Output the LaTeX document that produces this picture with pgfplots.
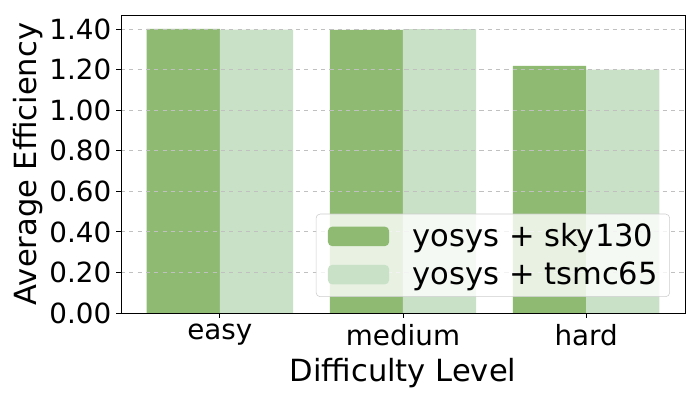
\documentclass[border=0pt]{standalone}
\usepackage{pgfplots}
\pgfplotsset{compat=1.18}
\usepackage{fontspec}
\setmainfont{DejaVu Sans}
\definecolor{skyc}{RGB}{143,186,114}
\definecolor{tsmcc}{RGB}{201,225,199}
\begin{document}
\begin{tikzpicture}
\useasboundingbox (0,0) rectangle (504pt,288pt);
\begin{axis}[
  at={(87.12pt,62.64pt)}, anchor=south west,
  scale only axis, width=406.08pt, height=214.56pt,
  xmin=-0.54, xmax=2.54, ymin=0, ymax=1.47,
  ybar=0pt, bar width=0.4,
  xtick={0,1,2}, xticklabels={easy,medium,hard},
  ytick={0,0.2,0.4,0.6,0.8,1.0,1.2,1.4},
  yticklabel style={/pgf/number format/.cd, fixed, fixed zerofill, precision=2},
  /pgf/number format/assume math mode=true,
  ymajorgrids, grid style={dashed, color={rgb,255:red,192;green,192;blue,192}, line width=0.6pt},
  axis on top,
  tick align=outside, major tick length=3.5pt,
  xtick pos=bottom, ytick pos=left,
  tick style={black, line width=0.6pt},
  axis line style={line width=0.6pt},
  tick label style={font=\fontsize{20}{24}\selectfont},
  xticklabel style={yshift=-1pt},
  label style={font=\fontsize{22}{26}\selectfont},
  xlabel={Difficulty Level}, ylabel={Average Efficiency},
  xlabel style={yshift=-2pt},
  ylabel style={yshift=-2pt},
  legend style={at={(0.9734,0.0537)}, anchor=south east, font=\fontsize{22}{26}\selectfont,
    fill=white, fill opacity=0.8, text opacity=1, draw={rgb,255:red,204;green,204;blue,204},
    rounded corners=3pt, inner xsep=8.6pt, inner ysep=5pt,
    row sep=5.5pt, nodes={inner xsep=0pt, inner ysep=2pt}},
  legend cell align=left,
  legend image code/.code={\fill[#1,draw=none,fill opacity=1] (0pt,-7pt) rectangle (44pt,7pt); \path (61pt,0pt);},
]
\addplot[fill=skyc, draw=none] coordinates {(0,1.401) (1,1.396) (2,1.219)};
\addplot[fill=tsmcc, draw=none] coordinates {(0,1.398) (1,1.400) (2,1.201)};
\legend{yosys + sky130, yosys + tsmc65}
\end{axis}
\end{tikzpicture}
\end{document}
